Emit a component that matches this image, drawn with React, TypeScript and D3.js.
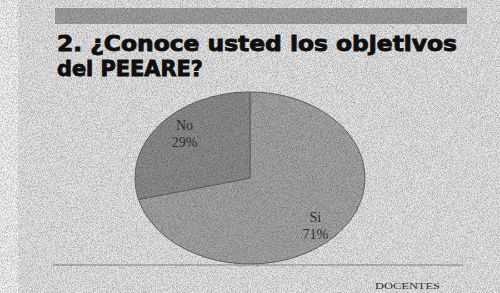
import React from "react";
import * as d3 from "d3";

const categories = ["Si", "No"];
const values = [71, 29];
const titleLines = ["2. ¿Conoce usted los objetivos", "del PEEARE?"];
const footer = "DOCENTES";

const W = 500;
const H = 293;
const cx = 250;
const cy = 178;
const rx = 115;
const ry = 86;
const colors = ["#a4a4a4", "#8c8c8c"];

export default function App() {
  const pie = d3.pie<number>().sort(null).value((d) => d);
  const arcs = pie(values);
  const arc = d3.arc<d3.PieArcDatum<number>>().innerRadius(0).outerRadius(1);
  const labelArc = d3.arc<d3.PieArcDatum<number>>().innerRadius(0.72).outerRadius(0.72);
  const total = d3.sum(values);

  return (
    <svg
      width={W}
      height={H}
      style={{ position: "absolute", left: 0, top: 0 }}
      viewBox={`0 0 ${W} ${H}`}
    >
      <defs>
        <filter id="noise" x="0" y="0" width="100%" height="100%">
          <feTurbulence type="fractalNoise" baseFrequency="1.2" numOctaves="1" seed="3" />
          <feColorMatrix
            type="matrix"
            values="0 0 0 0 0  0 0 0 0 0  0 0 0 0 0  1.4 0 0 0 -0.55"
          />
        </filter>
      </defs>
      <rect x={0} y={0} width={W} height={H} fill="#e4e4e4" />
      <rect x={0} y={0} width={18} height={H} fill="#f3f3f3" />
      {/* top band */}
      <rect x={55} y={8} width={412} height={16} fill="#a0a0a0" />
      {/* title */}
      {titleLines.map((t, i) => (
        <text
          key={i}
          x={57}
          y={51 + i * 25}
          fontFamily="Impact, 'DejaVu Sans Condensed', 'DejaVu Sans', sans-serif"
          fontStretch="condensed"
          fontWeight={900}
          fontSize={22}
          fill="#111"
          stroke="#111"
          strokeWidth={0.8}
          textLength={i === 0 ? 400 : 146}
          lengthAdjust="spacingAndGlyphs"
        >
          {t}
        </text>
      ))}
      {/* pie */}
      <g transform={`translate(${cx},${cy}) scale(${rx},${ry})`}>
        {arcs.map((a, i) => (
          <path
            key={i}
            d={arc(a) || ""}
            fill={colors[i]}
            stroke="#666"
            strokeWidth={1}
            vectorEffect="non-scaling-stroke"
          />
        ))}
      </g>
      {arcs.map((a, i) => {
        const [lx, ly] = labelArc.centroid(a);
        const x = cx + lx * rx;
        const y = cy + ly * ry;
        return (
          <text
            key={i}
            x={x}
            y={y}
            textAnchor="middle"
            fontFamily="'Liberation Serif', serif"
            fontSize={14}
            fill="#333"
          >
            <tspan x={x} dy={i === 0 ? 6 : -10}>{categories[i]}</tspan>
            <tspan x={x} dy={17}>{`${Math.round((values[i] / total) * 100)}%`}</tspan>
          </text>
        );
      })}
      {/* baseline */}
      <line x1={53} x2={463} y1={265} y2={265} stroke="#8a8a8a" strokeWidth={1} />
      <text
        x={375}
        y={289}
        fontFamily="'Liberation Serif', serif"
        fontSize={9}
        fill="#333"
        textLength={65}
        lengthAdjust="spacingAndGlyphs"
      >
        {footer}
      </text>
      <rect x={0} y={0} width={W} height={H} filter="url(#noise)" opacity={0.5} />
    </svg>
  );
}
